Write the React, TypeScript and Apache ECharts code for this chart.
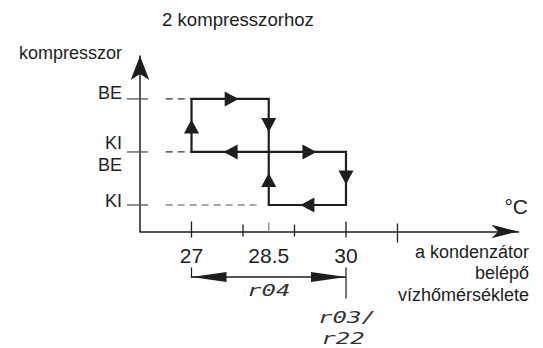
import React, { useEffect, useRef } from 'react';
import * as echarts from 'echarts';

// ---- content / data ----
const titleText = '2 kompresszorhoz';
const yAxisTitle = 'kompresszor';
const unitText = '°C';
const xAxisTitle = 'a kondenzátor\nbelépő\nvízhőmérséklete';

const xMin = 26;
const xMax = 33.35;
const yMin = 0.5;
const yMax = 3.81;

const xLabelValues = [27, 28.5, 30];
const xTickValues = [27, 28, 28.5, 29, 30, 31];
const xTickKinds = ['major', 'minor', 'mid', 'minor', 'major', 'long'];

const yTickValues = [1, 2, 3];
const yTickLabels = ['KI', 'KI\nBE', 'BE'];

// hysteresis paths (temperature, state level)
const upperLoop = [[27, 2], [27, 3], [28.5, 3], [28.5, 2], [27, 2]];
const lowerLoop = [[28.5, 2], [28.5, 1], [30, 1], [30, 2], [28.5, 2]];

// dashed guide lines to the y axis
const guideTop = [[26.5, 3], [27, 3]];
const guideMid = [[26.5, 2], [27, 2]];
const guideLow = [[26.5, 1], [28.29, 1]];

// flow direction arrows
const flowArrows = [
  [27, 2.48], [27.78, 3], [28.5, 2.51], [27.76, 2],
  [29.29, 2], [30, 1.52], [28.5, 1.47], [29.25, 1],
];
const flowDirs = ['up', 'right', 'down', 'left', 'right', 'down', 'up', 'left'];

// differential dimension
const bandFrom = 27;
const bandTo = 30;
const bandLabel = 'r04';
const setpointLabels = ['r03/', 'r22'];

// ---- styles ----
const INK = '#1e1e1e';
const FONT = '"Liberation Sans", Arial, Helvetica, sans-serif';
const NARROW = '"Liberation Sans Narrow", "Arial Narrow", "Liberation Sans", sans-serif';
const SEG = '"DejaVu Sans Mono", monospace';

const tickStyles: Record<string, { up: number; down: number; color: string }> = {
  major: { up: 10, down: 6, color: INK },
  minor: { up: 7, down: 5, color: INK },
  mid: { up: 9, down: 0, color: '#8a8a8a' },
  long: { up: 8, down: 11, color: INK },
};
const yLabelOffsets = [-3.5, 2.5, -5.5];

export default function App() {
  const ref = useRef<HTMLDivElement>(null);

  useEffect(() => {
    if (!ref.current) return;
    const chart = echarts.init(ref.current, undefined, { renderer: 'svg' });

    const lineBase = {
      type: 'line',
      symbol: 'none',
      silent: true,
      clip: false,
    };

    const option: any = {
      animation: false,
      title: {
        text: titleText,
        left: 162,
        top: 10,
        padding: 0,
        textStyle: { fontSize: 18.6, fontWeight: 'normal', color: INK, fontFamily: FONT },
      },
      grid: { left: 140, right: 24.5, top: 56, bottom: 116.5 },
      xAxis: {
        type: 'value',
        min: xMin,
        max: xMax,
        interval: 0.5,
        axisLine: {
          show: true,
          onZero: false,
          symbol: ['none', 'arrow'],
          symbolSize: [10, 27],
          lineStyle: { color: INK, width: 1.5 },
        },
        axisTick: { show: false },
        splitLine: { show: false },
        axisLabel: {
          margin: 13,
          fontSize: 21,
          fontFamily: NARROW,
          color: INK,
          showMaxLabel: false,
          showMinLabel: false,
          formatter: (v: number) =>
            xLabelValues.some((l) => Math.abs(l - v) < 1e-6) ? String(v) : '',
        },
      },
      yAxis: {
        type: 'value',
        min: yMin,
        max: yMax,
        axisLine: {
          show: true,
          onZero: false,
          symbol: ['none', 'arrow'],
          symbolSize: [14, 24],
          lineStyle: { color: INK, width: 1.5 },
        },
        axisTick: { show: false },
        splitLine: { show: false },
        axisLabel: { show: false },
      },
      graphic: [
        {
          type: 'text',
          x: 122,
          y: 53,
          style: {
            text: yAxisTitle,
            align: 'right',
            verticalAlign: 'middle',
            font: `18px ${FONT}`,
            fill: INK,
          },
        },
        {
          type: 'text',
          x: 528,
          y: 206,
          style: {
            text: unitText,
            align: 'right',
            verticalAlign: 'middle',
            font: `21px ${NARROW}`,
            fill: INK,
          },
        },
        {
          type: 'text',
          x: 529,
          y: 241,
          style: {
            text: xAxisTitle,
            align: 'right',
            verticalAlign: 'top',
            font: `18px ${FONT}`,
            lineHeight: 21.5,
            fill: INK,
          },
        },
      ],
      series: [
        {
          ...lineBase,
          data: upperLoop,
          lineStyle: { color: INK, width: 2.2, join: 'miter', cap: 'square' },
        },
        {
          ...lineBase,
          data: lowerLoop,
          lineStyle: { color: INK, width: 2.2, join: 'miter', cap: 'square' },
        },
        {
          ...lineBase,
          data: guideTop,
          lineStyle: { color: '#333', width: 1.3, type: [7, 5] },
        },
        {
          ...lineBase,
          data: guideMid,
          lineStyle: { color: '#333', width: 1.3, type: [7, 5] },
        },
        {
          ...lineBase,
          data: guideLow,
          lineStyle: { color: '#8a8a8a', width: 1.3, type: [7, 5] },
        },
        // flow arrows
        {
          type: 'custom',
          silent: true,
          clip: false,
          data: flowArrows,
          renderItem: (params: any, api: any) => {
            const p = api.coord([api.value(0), api.value(1)]);
            const dir = flowDirs[params.dataIndex];
            const L = 14;
            const W = 7.5;
            const [x, y] = p;
            let pts: number[][];
            if (dir === 'up') pts = [[x, y - L / 2], [x - W, y + L / 2], [x + W, y + L / 2]];
            else if (dir === 'down') pts = [[x, y + L / 2], [x - W, y - L / 2], [x + W, y - L / 2]];
            else if (dir === 'right') pts = [[x + L / 2, y], [x - L / 2, y - W], [x - L / 2, y + W]];
            else pts = [[x - L / 2, y], [x + L / 2, y - W], [x + L / 2, y + W]];
            return { type: 'polygon', shape: { points: pts }, style: { fill: INK } };
          },
        },
        // x ticks
        {
          type: 'custom',
          silent: true,
          clip: false,
          data: xTickValues.map((v) => [v, yMin]),
          renderItem: (params: any, api: any) => {
            const p = api.coord([api.value(0), api.value(1)]);
            const s = tickStyles[xTickKinds[params.dataIndex]];
            return {
              type: 'line',
              shape: { x1: p[0], y1: p[1] - s.up, x2: p[0], y2: p[1] + s.down },
              style: { stroke: s.color, lineWidth: 1.3 },
            };
          },
        },
        // y ticks + labels
        {
          type: 'custom',
          silent: true,
          clip: false,
          data: yTickValues.map((v) => [xMin, v]),
          renderItem: (params: any, api: any) => {
            const p = api.coord([api.value(0), api.value(1)]);
            const i = params.dataIndex;
            return {
              type: 'group',
              children: [
                {
                  type: 'line',
                  shape: { x1: p[0] - 13, y1: p[1], x2: p[0] + 8, y2: p[1] },
                  style: { stroke: '#555', lineWidth: 1.3 },
                },
                {
                  type: 'text',
                  x: p[0] - 18,
                  y: p[1] + yLabelOffsets[i],
                  style: {
                    text: yTickLabels[i],
                    align: 'right',
                    verticalAlign: 'middle',
                    font: `18px ${FONT}`,
                    lineHeight: 22,
                    fill: INK,
                  },
                },
              ],
            };
          },
        },
        // differential dimension
        {
          type: 'custom',
          silent: true,
          clip: false,
          data: [[bandFrom, bandTo]],
          renderItem: (params: any, api: any) => {
            const a = api.coord([api.value(0), yMin]);
            const b = api.coord([api.value(1), yMin]);
            const base = a[1];
            const ly = base + 45.5;
            const AL = 35;
            const AW = 5;
            return {
              type: 'group',
              children: [
                {
                  type: 'line',
                  shape: { x1: a[0], y1: base + 36, x2: a[0], y2: ly + 1 },
                  style: { stroke: INK, lineWidth: 1.2 },
                },
                {
                  type: 'line',
                  shape: { x1: b[0], y1: base + 36, x2: b[0], y2: base + 67 },
                  style: { stroke: INK, lineWidth: 1.2 },
                },
                {
                  type: 'line',
                  shape: { x1: a[0], y1: ly, x2: b[0], y2: ly },
                  style: { stroke: INK, lineWidth: 1.3 },
                },
                {
                  type: 'polygon',
                  shape: { points: [[a[0], ly], [a[0] + AL, ly - AW], [a[0] + AL, ly + AW]] },
                  style: { fill: INK },
                },
                {
                  type: 'polygon',
                  shape: { points: [[b[0], ly], [b[0] - AL, ly - AW], [b[0] - AL, ly + AW]] },
                  style: { fill: INK },
                },
                {
                  type: 'text',
                  x: (a[0] + b[0]) / 2,
                  y: base + 59.5,
                  scaleX: 1.6,
                  style: {
                    text: bandLabel,
                    align: 'center',
                    verticalAlign: 'middle',
                    font: `italic 15px ${SEG}`,
                    fill: '#333',
                  },
                },
                {
                  type: 'text',
                  x: b[0] + 1,
                  y: base + 86,
                  scaleX: 1.6,
                  style: {
                    text: setpointLabels[0],
                    align: 'center',
                    verticalAlign: 'middle',
                    font: `italic 15px ${SEG}`,
                    fill: '#333',
                  },
                },
                {
                  type: 'text',
                  x: b[0] - 3,
                  y: base + 107,
                  scaleX: 1.6,
                  style: {
                    text: setpointLabels[1],
                    align: 'center',
                    verticalAlign: 'middle',
                    font: `italic 15px ${SEG}`,
                    fill: '#333',
                  },
                },
              ],
            };
          },
        },
      ],
    };

    chart.setOption(option);
    return () => chart.dispose();
  }, []);

  return (
    <div
      ref={ref}
      style={{ position: 'fixed', left: 0, top: 0, width: 543, height: 348, background: '#fff' }}
    />
  );
}
